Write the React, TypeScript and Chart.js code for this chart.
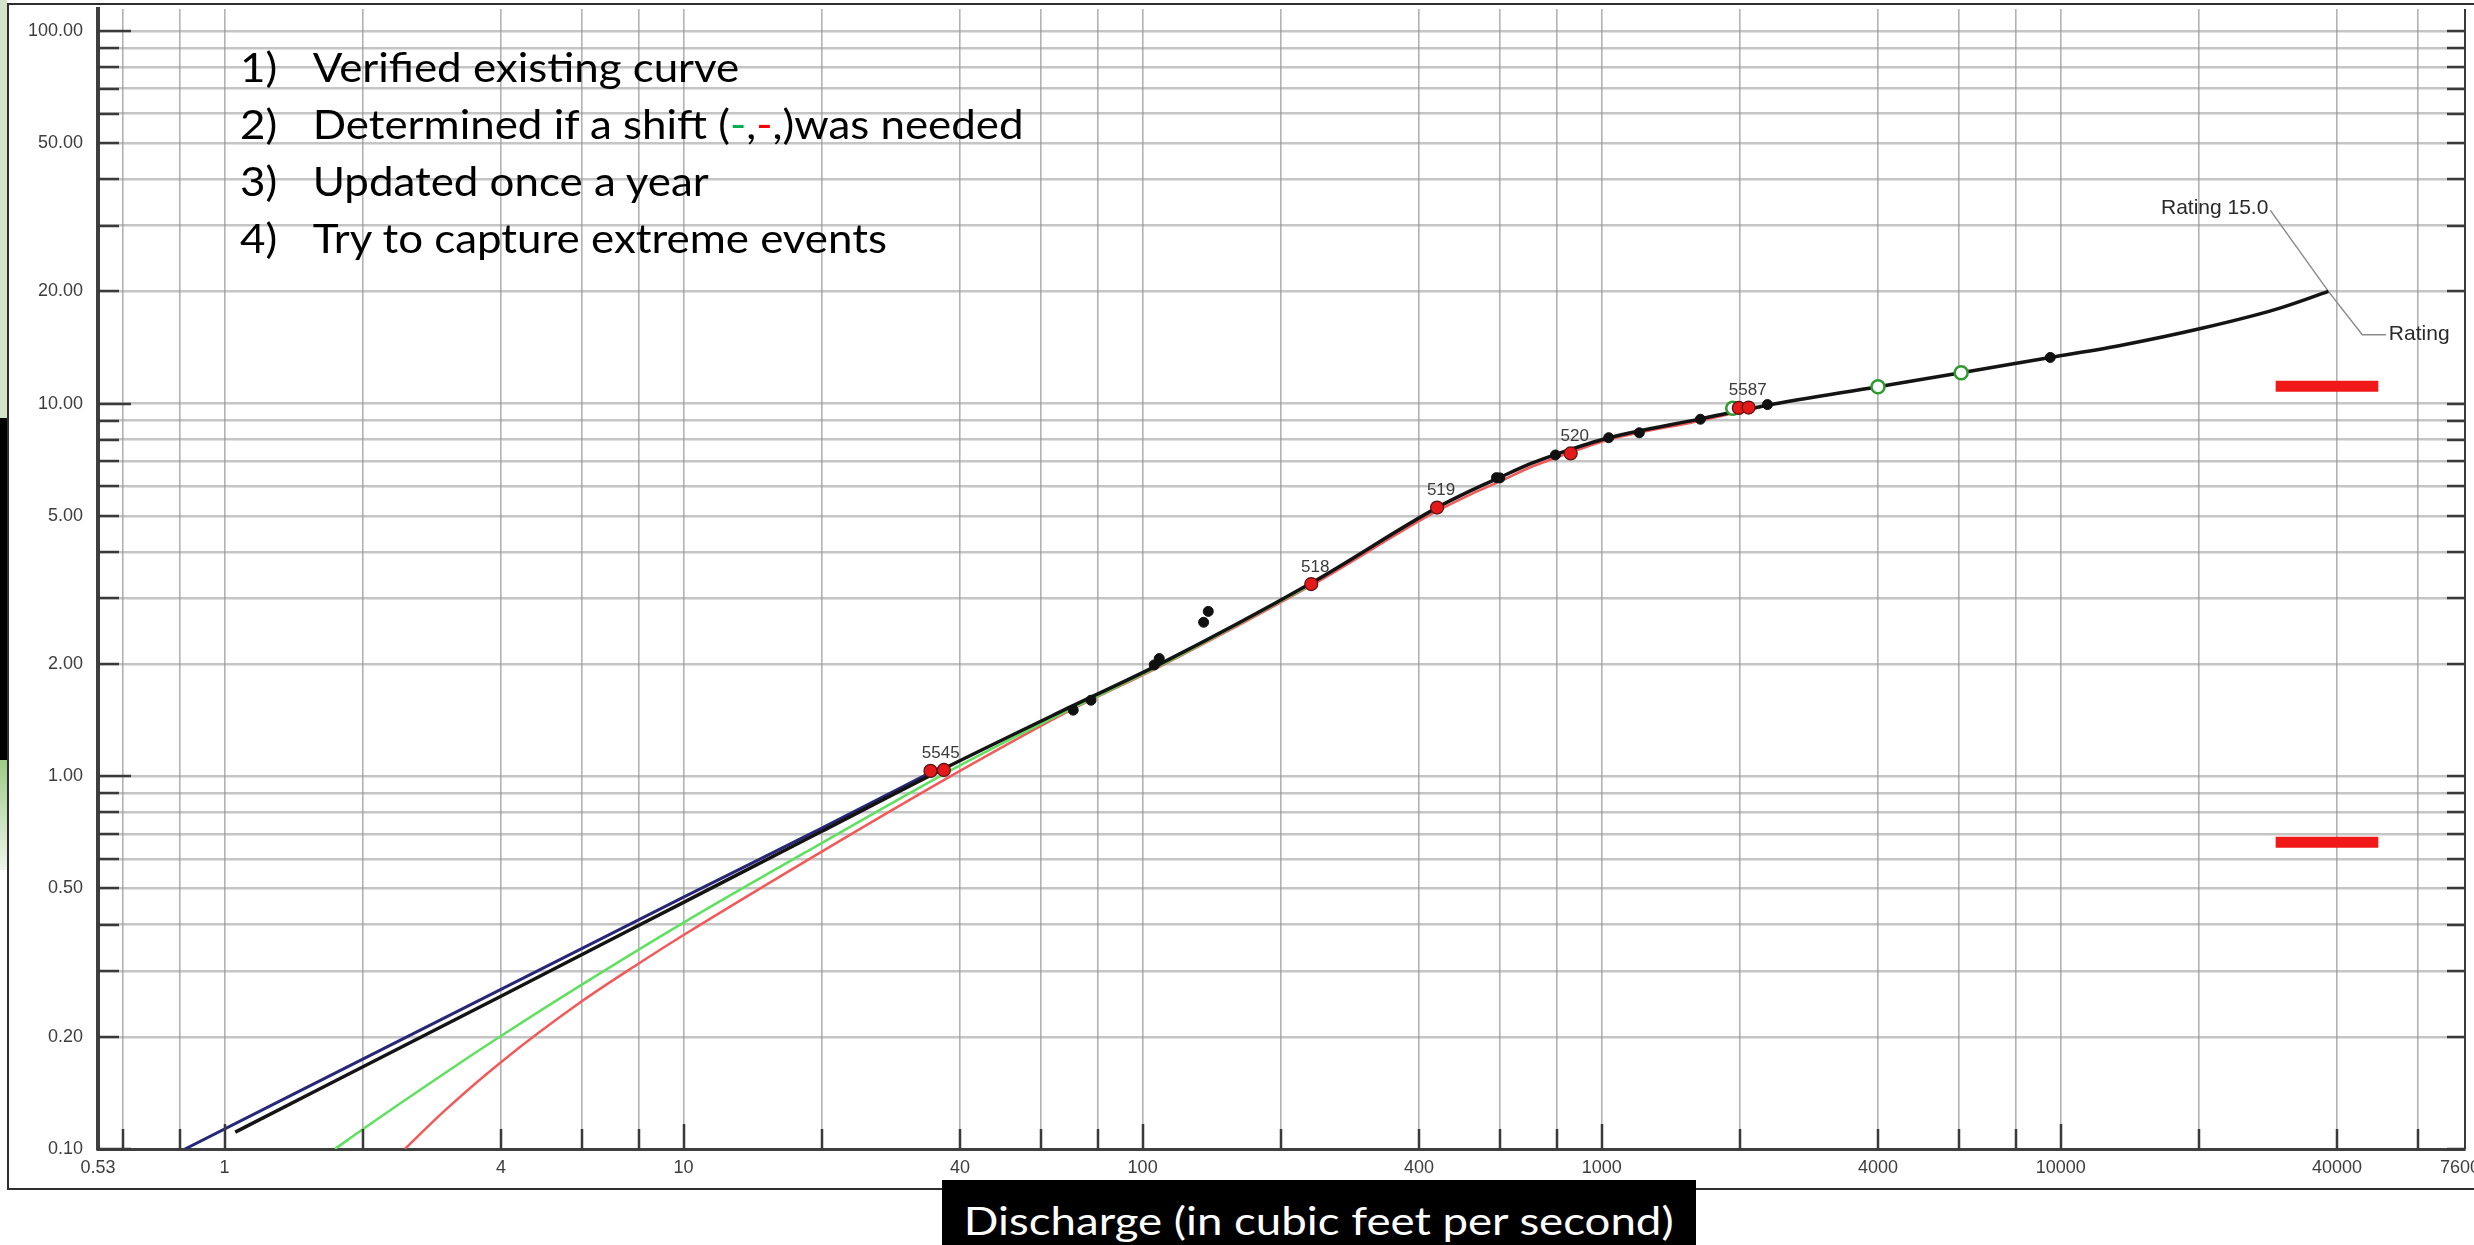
import React, { useEffect, useRef } from "react";
import { Chart, registerables } from "chart.js";

Chart.register(...registerables);

// ---------- axis ticks / grid ----------
const Y_GRID = [0.1, 0.2, 0.3, 0.4, 0.5, 0.6, 0.7, 0.8, 0.9, 1, 2, 3, 4, 5, 6, 7, 8, 9, 10, 20, 30, 40, 50, 60, 70, 80, 90, 100];
const Y_LABELS = [0.1, 0.2, 0.5, 1, 2, 5, 10, 20, 50, 100];
const Y_MAJOR = [0.1, 1, 10, 100];
const X_GRID = [0.53, 0.6, 0.8, 1, 2, 4, 6, 8, 10, 20, 40, 60, 80, 100, 200, 400, 600, 800, 1000, 2000, 4000, 6000, 8000, 10000, 20000, 40000, 60000, 76000];
const X_LABELS = [0.53, 1, 4, 10, 40, 100, 400, 1000, 4000, 10000, 40000, 76000];
const X_MAJOR = [1, 10, 100, 1000, 10000];

// ---------- rating curve (Rating 15.0) ----------
const ratingQ = [1.055, 4, 10, 20, 37, 70, 109, 233, 438, 520, 594, 700, 793, 1036, 1641, 2297, 4000, 6070, 9490, 13400, 20400, 29400, 38300];
const ratingH = [0.111, 0.257, 0.459, 0.712, 1.05, 1.54, 2.0, 3.3, 5.26, 5.85, 6.3, 6.9, 7.3, 8.1, 9.1, 9.9, 11.1, 12.1, 13.3, 14.3, 15.95, 17.9, 20.0];

// ---------- previous rating (navy) ----------
const navyQ = [0.82, 4, 10, 20, 37];
const navyH = [0.1, 0.268, 0.474, 0.726, 1.07];

// ---------- shifted curves ----------
const greenQ = [1.74, 2, 3, 4, 6, 10, 20, 40, 70, 109, 233];
const greenH = [0.1, 0.113, 0.159, 0.201, 0.276, 0.405, 0.662, 1.07, 1.52, 1.98, 3.27];
const redQ = [2.47, 3, 4, 6, 8, 10, 20, 40, 70, 109, 233, 438, 520, 594, 700, 793, 1036, 1641, 2297];
const redH = [0.1, 0.126, 0.171, 0.249, 0.315, 0.375, 0.628, 1.034, 1.51, 1.97, 3.25, 5.15, 5.72, 6.15, 6.75, 7.15, 8.0, 9.0, 9.88];

// ---------- measurements ----------
const blackPtQ = [70.6, 77.2, 106, 108.7, 135.8, 139, 590, 600, 793, 1036, 1208, 1641, 2297, 9490];
const blackPtH = [1.505, 1.6, 1.99, 2.07, 2.59, 2.77, 6.33, 6.32, 7.28, 8.1, 8.35, 9.08, 9.94, 13.3];
const redPtQ = [34.5, 36.9, 233, 438, 856, 1990, 2090];
const redPtH = [1.034, 1.04, 3.28, 5.26, 7.35, 9.74, 9.76];
const greenPtQ = [1930, 4000, 6070];
const greenPtH = [9.72, 11.1, 12.1];

// ---------- measurement numbers ----------
const labelText = ["5545", "518", "519", "520", "5587"];
const labelQ = [35.6, 233, 438, 856, 2040];
const labelH = [1.037, 3.28, 5.26, 7.35, 9.75];

// ---------- rating callout ----------
const leaderQ = [28630, 38300, 45400, 51100];
const leaderH = [33.0, 20.0, 15.3, 15.3];
const calloutTitle = "Rating 15.0";
const calloutShort = "Rating";

// ---------- red marks ----------
const markQ = [29400, 49200];
const markUpperH = [11.13, 11.13];
const markLowerH = [0.665, 0.665];

const notes = [
  "Verified existing curve",
  "Determined if a shift (-,-,)was needed",
  "Updated once a year",
  "Try to capture extreme events",
];
const caption = "Discharge (in cubic feet per second)";

const pts = (xs: number[], ys: number[]) => xs.map((x, i) => ({ x, y: ys[i] }));

const fmtX = (v: number) => (v < 1 ? v.toFixed(2) : String(v));

const overlayPlugin = {
  id: "overlay",
  afterDatasetsDraw(chart: any) {
    const { ctx, scales } = chart;
    const xs = scales.x;
    const ys = scales.y;
    ctx.save();
    ctx.font = '17px "Liberation Sans", Arial, sans-serif';
    ctx.fillStyle = "#3a3a3a";
    ctx.textAlign = "center";
    ctx.textBaseline = "middle";
    labelText.forEach((t, i) => {
      const px = xs.getPixelForValue(labelQ[i]) + 4;
      const py = ys.getPixelForValue(labelH[i]) - 17;
      ctx.fillText(t, px, py);
    });
    ctx.font = '21px "Liberation Sans", Arial, sans-serif';
    ctx.fillStyle = "#2a2a2a";
    ctx.textAlign = "right";
    ctx.fillText(calloutTitle, xs.getPixelForValue(leaderQ[0]) - 2, ys.getPixelForValue(leaderH[0]) - 2);
    ctx.textAlign = "left";
    ctx.fillText(calloutShort, xs.getPixelForValue(leaderQ[3]) + 3, ys.getPixelForValue(leaderH[3]) - 1);
    ctx.restore();
  },
  afterDraw(chart: any) {
    const { ctx, chartArea: a, scales } = chart;
    const xs = scales.x;
    const ys = scales.y;
    ctx.save();
    ctx.strokeStyle = "#3a3a3a";
    ctx.lineWidth = 2.5;
    ctx.beginPath();
    Y_GRID.forEach((v) => {
      const py = Math.round(ys.getPixelForValue(v));
      const len = Y_MAJOR.includes(v) ? 33 : 21;
      ctx.moveTo(a.left, py);
      ctx.lineTo(a.left + len, py);
      ctx.moveTo(a.right, py);
      ctx.lineTo(a.right - 18, py);
    });
    X_GRID.slice(1, -1).forEach((v) => {
      const px = Math.round(xs.getPixelForValue(v));
      const len = X_MAJOR.includes(v) ? 25 : 20;
      ctx.moveTo(px, a.bottom);
      ctx.lineTo(px, a.bottom - len);
    });
    ctx.stroke();
    ctx.lineWidth = 2;
    ctx.beginPath();
    ctx.moveTo(a.right, a.top);
    ctx.lineTo(a.right, a.bottom);
    ctx.stroke();
    ctx.restore();
  },
};

function RatingChart() {
  const ref = useRef<HTMLCanvasElement | null>(null);
  useEffect(() => {
    if (!ref.current) return;
    const lineDs = (label: string, data: any[], color: string, width: number, order: number) => ({
      label,
      data,
      showLine: true,
      borderColor: color,
      backgroundColor: color,
      borderWidth: width,
      pointRadius: 0,
      cubicInterpolationMode: "monotone",
      order,
    });
    const chart = new Chart(ref.current, {
      type: "scatter",
      data: {
        datasets: [
          { ...lineDs("mark1", pts(markQ, markUpperH), "#f01818", 11, 20), cubicInterpolationMode: "default", tension: 0, borderCapStyle: "butt" },
          { ...lineDs("mark2", pts(markQ, markLowerH), "#f01818", 11, 20), cubicInterpolationMode: "default", tension: 0, borderCapStyle: "butt" },
          { ...lineDs("leader", pts(leaderQ, leaderH), "#8c8c8c", 1.5, 19), cubicInterpolationMode: "default", tension: 0 },
          lineDs("Shift red", pts(redQ, redH), "#f25a5a", 2.5, 18),
          lineDs("Shift green", pts(greenQ, greenH), "#5fe05f", 2.5, 17),
          lineDs("Previous rating", pts(navyQ, navyH), "#27277a", 3, 16),
          lineDs("Rating 15.0", pts(ratingQ, ratingH), "#141414", 3.5, 15),
          {
            label: "green pts",
            data: pts(greenPtQ, greenPtH),
            pointRadius: 6.5,
            pointBackgroundColor: "#ffffff",
            pointBorderColor: "#2f9a2f",
            pointBorderWidth: 2.5,
            showLine: false,
            order: 3,
          },
          {
            label: "black pts",
            data: pts(blackPtQ, blackPtH),
            pointRadius: 5,
            pointBackgroundColor: "#101010",
            pointBorderColor: "#101010",
            pointBorderWidth: 1,
            showLine: false,
            order: 2,
          },
          {
            label: "red pts",
            data: pts(redPtQ, redPtH),
            pointRadius: 6.5,
            pointBackgroundColor: "#e41a1a",
            pointBorderColor: "#5a1010",
            pointBorderWidth: 1.2,
            showLine: false,
            order: 1,
          },
        ] as any,
      },
      options: {
        animation: false,
        responsive: false,
        devicePixelRatio: 1,
        layout: { padding: { left: 0, right: 4, top: 5, bottom: 0 } },
        plugins: { legend: { display: false }, tooltip: { enabled: false } },
        scales: {
          x: {
            type: "logarithmic",
            min: 0.53,
            max: 76000,
            afterBuildTicks: (s: any) => {
              s.ticks = X_GRID.map((v) => ({ value: v }));
            },
            afterFit: (s: any) => {
              s.height = 41;
              s.paddingLeft = 0;
              s.paddingRight = 0;
            },
            ticks: {
              autoSkip: false,
              maxRotation: 0,
              minRotation: 0,
              padding: 8,
              color: "#3d3d3d",
              font: { family: '"Liberation Sans", Arial, sans-serif', size: 18 },
              callback: (v: any) => (X_LABELS.includes(Number(v)) ? fmtX(Number(v)) : ""),
            },
            grid: { color: "#b2b2b2", lineWidth: 1.6, drawTicks: false },
            border: { color: "#3f3f3f", width: 3 },
          },
          y: {
            type: "logarithmic",
            min: 0.1,
            max: 114.5,
            afterBuildTicks: (s: any) => {
              s.ticks = Y_GRID.map((v) => ({ value: v }));
            },
            afterFit: (s: any) => {
              s.width = 98;
              s.paddingTop = 0;
              s.paddingBottom = 0;
            },
            ticks: {
              autoSkip: false,
              padding: 15,
              color: "#3d3d3d",
              font: { family: '"Liberation Sans", Arial, sans-serif', size: 18 },
              callback: (v: any) => (Y_LABELS.includes(Number(v)) ? Number(v).toFixed(2) : ""),
            },
            grid: { color: "rgba(150,150,150,0.55)", lineWidth: 2.6, drawTicks: false },
            border: { color: "#3f3f3f", width: 4 },
          },
        },
      } as any,
      plugins: [overlayPlugin],
    });
    return () => chart.destroy();
  }, []);
  return (
    <canvas
      ref={ref}
      width={2474}
      height={1190}
      style={{ position: "absolute", left: 0, top: 0, width: 2474, height: 1190 }}
    />
  );
}

export default function App() {
  const slideFont = 'Lato, "Open Sans", "Noto Sans", sans-serif';
  return (
    <div
      style={{
        position: "absolute",
        left: 0,
        top: 0,
        width: 2474,
        height: 1245,
        background: "#ffffff",
        overflow: "hidden",
      }}
    >
      {/* slide edge decorations */}
      <div style={{ position: "absolute", left: 0, top: 0, width: 7, height: 418, background: "#d2e5c8" }} />
      <div style={{ position: "absolute", left: 0, top: 418, width: 8, height: 342, background: "#000" }} />
      <div
        style={{
          position: "absolute",
          left: 0,
          top: 760,
          width: 7,
          height: 110,
          background: "linear-gradient(#9dcb88, #eef6ea)",
        }}
      />
      {/* frame */}
      <div
        style={{
          position: "absolute",
          left: 7,
          top: 3,
          width: 2490,
          height: 1187,
          border: "2px solid #2e2e2e",
          boxSizing: "border-box",
        }}
      />
      <RatingChart />
      {/* bullet notes */}
      <div
        style={{
          position: "absolute",
          left: 240,
          top: 38,
          fontFamily: slideFont,
          fontSize: 41,
          lineHeight: "57px",
          color: "#000",
          transform: "scaleX(1.07)",
          transformOrigin: "left top",
          whiteSpace: "nowrap",
        }}
      >
        {notes.map((n, i) => (
          <div key={i} style={{ display: "flex" }}>
            <span style={{ width: 68, display: "inline-block" }}>{i + 1})</span>
            {i === 1 ? (
              <span>
                Determined if a shift (<span style={{ color: "#00b050" }}>-</span>,
                <span style={{ color: "#ff0000" }}>-</span>,)was needed
              </span>
            ) : (
              <span>{n}</span>
            )}
          </div>
        ))}
      </div>
      {/* axis caption */}
      <div
        style={{
          position: "absolute",
          left: 942,
          top: 1180,
          width: 754,
          height: 65,
          background: "#000",
          color: "#fff",
          overflow: "hidden",
          textAlign: "center",
          fontFamily: slideFont,
          fontSize: 38,
          lineHeight: "81px",
          whiteSpace: "nowrap",
        }}
      >
        <span style={{ display: "inline-block", transform: "scaleX(1.2)" }}>{caption}</span>
      </div>
    </div>
  );
}
